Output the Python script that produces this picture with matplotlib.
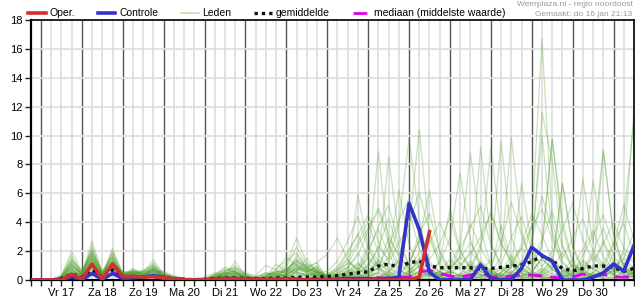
import matplotlib
matplotlib.use('Agg')
import matplotlib.pyplot as plt
import numpy as np
from matplotlib.lines import Line2D

plt.rcParams['font.family'] = ['Liberation Sans', 'DejaVu Sans']
plt.rcParams['font.size'] = 8

# 6-hourly steps, hours since vr 17 jan 00:00
hours = np.arange(-6, 349, 6)

day_labels = ['Vr 17', 'Za 18', 'Zo 19', 'Ma 20', 'Di 21', 'Wo 22', 'Do 23',
              'Vr 24', 'Za 25', 'Zo 26', 'Ma 27', 'Di 28', 'Wo 29', 'Do 30']

oper = [0, 0, 0, 0, 0.4, 0.07, 1.1, 0.07, 1.1, 0.23,
        0.25, 0.2, 0.23, 0.18, 0.07, 0.03, 0, 0, 0.05, 0.1,
        0.1, 0.05, 0.05, 0.05, 0.05, 0.1, 0.05, 0.02, 0, 0,
        0, 0, 0, 0, 0, 0, 0, 0.02, 0.2, 3.35]

controle = [0, 0, 0, 0.02, 0.2, 0.02, 0.45, 0.05, 0.45, 0.1,
            0.15, 0.2, 0.3, 0.2, 0.05, 0.02, 0, 0, 0.05, 0.1,
            0.1, 0.05, 0.05, 0.02, 0.05, 0.05, 0.02, 0.02, 0.02, 0.02,
            0.05, 0.1, 0.1, 0.1, 0.05, 0.1, 0.18, 5.3, 3.5, 0.55,
            0, 0, 0, 0.05, 1.05, 0.1, 0.02, 0.05, 0.8, 2.26,
            1.7, 1.3, 0, 0, 0, 0.2, 0.5, 1.1, 0.6, 2.4]

gemiddelde = [0, 0, 0, 0.1, 0.4, 0.2, 0.7, 0.2, 0.7, 0.2,
              0.25, 0.2, 0.3, 0.2, 0.1, 0.05, 0.02, 0.05, 0.1, 0.15,
              0.15, 0.1, 0.1, 0.1, 0.15, 0.15, 0.2, 0.2, 0.2, 0.25,
              0.3, 0.4, 0.5, 0.57, 0.97, 1.1, 0.88, 1.2, 1.3, 0.97,
              0.85, 0.85, 0.85, 0.85, 0.76, 0.8, 0.88, 0.97, 1.04, 1.27,
              1.66, 1.34, 0.8, 0.62, 0.8, 0.97, 0.97, 0.88, 0.6, 0.8]

mediaan = [0, 0, 0, 0.05, 0.3, 0.1, 0.6, 0.1, 0.6, 0.15,
           0.2, 0.15, 0.2, 0.1, 0.05, 0, 0, 0, 0.05, 0.1,
           0.1, 0.05, 0, 0, 0.05, 0.1, 0.1, 0.1, 0.1, 0.05,
           0.05, 0.1, 0.1, 0.1, 0.15, 0.15, 0.18, 0.2, 0.57, 0.65,
           0.46, 0.28, 0.2, 0.35, 0.5, 0.23, 0.2, 0.28, 0.35, 0.35,
           0.28, 0.2, 0.12, 0.2, 0.42, 0.23, 0.4, 0.2, 0.2, 0.2]

# ensemble members (leden), one row per member
leden = [
    '0 0 0 0.1 0.5 0.2 1.2 0.3 1.0 0.2 0.3 0.2 0.4 0.2 0.1 0 0 0 0.1 0.2 0.3 0.1 0 0 0.1 0.2 0.4 0.3 0.2 '
    '0.3 0.5 1.2 0.8 2.1 3.5 1.8 0.6 0.4 1.1 0.3 0.2 0.8 1.5 2.6 1.2 0.5 0.3 0.9 2.2 1.4 0.6 0.2 0.1 0.5 1.1 0.8 0.4 0.6 1.9 1.2',
    '0 0 0 0.2 1.1 0.4 2.7 0.5 1.4 0.3 0.5 0.3 0.6 0.3 0.1 0.1 0 0 0.4 0.8 0.5 0.2 0.1 0.2 0.3 0.5 1.1 0.6 0.3 '
    '0.1 0.2 0.4 5.9 2.3 0.8 0.3 0.1 0 0.2 0.5 0.3 0.1 0 0.2 0.6 0.3 0.1 0.4 1.2 3.8 16.7 4.1 1.3 0.4 0.2 0.1 0.3 0.8 0.4 0.2',
    '0 0 0 0.1 0.8 0.3 1.6 0.2 2.2 0.4 0.6 0.5 1.4 0.4 0.2 0 0 0.1 0.2 0.3 1.3 0.3 0.1 0.1 0.2 0.4 0.8 0.5 0.4 '
    '0 0.1 0.3 0.6 1.5 8.9 2.4 0.7 0.3 0.1 0 0.2 0.6 0.3 0.1 0 0.3 0.8 0.4 0.2 0.5 1.6 0.7 0.3 0.1 0.4 0.9 2.7 1.3 0.5 0.8',
    '0 0 0 0.3 2.0 0.6 1.3 0.4 1.7 0.2 0.4 0.6 0.9 0.3 0.1 0.1 0 0 0.1 0.5 0.4 0.2 0 0.3 0.6 1.1 2.9 1.2 0.6 '
    '0.2 0.4 0.8 1.9 0.6 1.3 8.5 3.1 0.9 0.4 0.2 0.6 1.4 0.8 0.3 0.1 0.2 0.5 1.7 0.9 0.4 0.2 0.1 0.4 1.0 0.6 0.3 0.1 0.2 0.5 0.3',
    '0 0 0 0.1 0.4 0.1 0.9 0.2 0.8 0.3 0.7 0.4 0.5 0.6 0.3 0.1 0 0 0 0.1 0.2 0.1 0.2 0.5 0.3 0.7 1.4 0.8 1.2 '
    '0.1 0.2 0.3 0.5 1.1 0.7 1.6 6.2 2.5 0.8 0.3 0.1 0.2 0.4 1.3 0.6 0.2 0.1 0.3 0.8 1.9 11.6 8.3 2.4 0.7 0.3 0.5 1.2 0.6 0.4 0.2',
    '0 0 0 0.2 1.5 0.5 2.1 0.3 1.2 0.5 0.3 0.7 1.0 0.2 0.1 0 0 0 0.3 0.9 0.6 0.1 0 0.1 0.4 0.3 0.6 1.5 0.5 '
    '0 0 0.2 0.4 0.9 2.3 1.4 3.8 9.8 4.2 1.1 0.4 0.2 0.1 0.3 0.9 0.5 0.2 0.1 0.3 0.6 1.4 0.8 0.3 0.2 0.6 1.8 0.9 0.4 0.2 0.6',
    '0 0 0 0 0.3 0.2 0.8 0.1 0.6 0.1 0.2 0.1 0.3 0.1 0 0 0 0 0 0.1 0.1 0 0 0.2 0.1 0.3 0.2 0.4 0.3 '
    '0.2 0.3 0.6 1.2 0.5 0.8 2.9 1.7 3.5 10.4 3.2 0.9 0.4 0.2 0.6 1.3 0.7 0.3 0.2 0.5 1.1 2.3 9.7 3.6 1.2 0.4 0.2 0.5 0.9 0.6 0.3',
    '0 0 0 0.2 1.3 0.7 1.9 0.6 1.5 0.4 0.8 0.3 0.7 0.5 0.2 0.1 0.1 0.2 0.5 0.3 0.8 0.5 0.3 1.0 0.7 1.6 1.0 0.6 0.9 '
    '0.1 0.1 0.2 0.3 0.6 1.4 0.9 0.4 1.1 2.8 6.2 1.9 0.6 0.3 0.1 0.2 0.4 1.0 0.5 0.2 0.1 0.3 0.7 0.4 0.2 0.9 6.9 2.6 0.8 0.3 0.5',
    '0 0 0 0.1 0.7 0.3 1.4 0.4 1.8 0.2 0.4 0.2 0.8 0.2 0.1 0 0 0 0.2 0.4 0.2 0.1 0 0 0.2 0.5 1.7 0.9 0.4 '
    '0.3 0.6 1.4 0.7 0.3 0.2 0.5 1.3 0.6 0.2 0.4 1.2 2.9 7.4 2.8 0.9 0.4 0.2 0.5 1.3 0.6 0.3 0.1 0.2 0.6 1.4 0.7 8.9 3.1 0.9 0.4',
    '0 0 0 0.3 1.7 0.4 2.4 0.5 1.1 0.6 0.5 0.5 0.6 0.3 0.2 0.1 0 0 0.1 0.6 0.9 0.3 0.1 0.2 1.1 0.6 0.5 0.3 0.7 '
    '0 0.1 0.1 0.3 0.2 0.5 0.3 0.1 0.2 0.6 0.3 0.5 1.1 2.4 8.8 3.5 1.0 0.4 0.2 0.1 0.3 0.8 0.4 0.2 0.5 1.3 0.8 0.3 0.6 2.1 11.8',
    '0 0 0 0.1 0.6 0.2 1.0 0.3 0.9 0.3 0.3 0.3 1.2 0.4 0.1 0 0 0 0.1 0.2 0.3 0.2 0.1 0 0 0.1 0.3 0.2 0.5 '
    '0.2 0.4 0.3 0.7 1.6 0.9 0.4 0.2 0.6 1.5 0.8 0.3 0.5 1.2 0.6 9.2 2.7 0.8 0.3 0.1 0.2 0.5 1.1 6.7 2.2 0.7 0.3 0.2 0.4 0.9 0.5',
    '0 0 0 0.2 0.9 0.5 1.7 0.3 2.0 0.5 0.6 0.4 0.4 0.2 0.1 0.1 0 0.1 0.3 0.7 0.5 0.2 0.1 0.4 0.5 0.9 2.3 1.0 0.6 '
    '0.1 0.2 0.5 1.1 0.6 0.3 0.1 0.2 0.4 0.9 0.5 0.2 0.1 0.3 0.8 2.1 9.1 3.3 1.0 0.4 0.2 0.6 1.3 0.7 0.3 0.2 0.5 1.0 0.4 0.2 0.3',
    '0 0 0 0.1 1.2 0.3 1.1 0.2 1.3 0.2 0.5 0.6 0.7 0.3 0.1 0 0 0 0.2 0.3 0.6 0.4 0.2 0.1 0.3 0.4 0.7 1.1 0.8 '
    '0 0.1 0.3 0.2 0.4 0.8 0.5 0.2 0.1 0.3 0.7 0.4 0.2 0.1 0.2 0.6 1.4 9.6 3.0 0.9 0.3 0.1 0.2 0.5 1.1 0.6 0.3 0.2 0.7 1.5 0.8',
    '0 0 0 0.2 0.5 0.4 2.2 0.4 1.0 0.4 0.4 0.2 1.0 0.5 0.2 0.1 0 0 0 0.4 0.7 0.2 0 0.1 0.2 0.8 1.2 0.7 0.3 '
    '0.2 0.5 0.9 0.4 0.2 0.1 0.3 0.7 0.4 0.2 0.1 0.3 0.6 0.3 0.1 0.2 0.5 1.6 9.9 3.4 1.1 0.4 0.2 0.1 0.4 0.9 0.5 0.3 1.2 0.7 0.3',
    '0 0 0 0.1 0.8 0.2 1.5 0.5 1.6 0.3 0.6 0.4 0.5 0.2 0.1 0 0 0 0.2 0.2 0.4 0.1 0.1 0.3 0.4 0.3 0.9 0.5 1.0 '
    '0.1 0.3 0.6 0.3 0.1 0.2 0.4 0.2 0.6 1.3 0.7 0.3 0.1 0.2 0.5 1.2 0.6 0.3 0.8 6.7 2.4 10.0 3.2 0.9 0.3 0.1 0.2 0.6 0.3 0.1 0.2',
    '0 0 0 0.3 1.4 0.6 1.8 0.3 0.7 0.2 0.3 0.5 0.8 0.4 0.2 0.1 0 0 0.3 0.5 0.3 0.1 0 0.2 0.8 1.3 1.9 0.8 0.5 '
    '0.4 0.8 1.8 3.2 1.5 0.7 0.3 0.1 0.2 0.5 1.1 0.6 0.2 0.1 0.3 0.8 0.4 0.2 0.1 0.3 0.9 2.4 9.8 4.1 1.3 0.5 0.2 0.4 1.0 0.6 0.4',
    '0 0 0 0.1 0.6 0.3 1.3 0.2 1.2 0.4 0.5 0.3 0.6 0.3 0.1 0 0 0 0.1 0.3 0.5 0.3 0.1 0 0.1 0.2 0.5 0.4 0.3 '
    '0 0 0.1 0.2 0.5 1.2 0.6 0.3 0.1 0.2 0.4 0.2 0.1 0 0.1 0.3 0.7 0.3 0.1 0.2 0.6 1.5 0.8 6.7 2.3 0.8 0.3 0.1 0.2 0.6 0.3',
    '0 0 0 0.2 1.0 0.4 2.0 0.6 1.9 0.3 0.7 0.6 1.1 0.2 0.1 0.1 0 0.1 0.4 0.6 1.0 0.4 0.2 0.5 0.4 0.6 1.3 0.9 0.7 '
    '0.2 0.3 0.5 0.9 2.4 1.3 0.6 0.2 0.4 1.0 0.5 0.2 0.1 0.3 0.7 0.4 0.2 0.5 1.3 0.7 0.3 0.1 0.2 0.6 1.4 7.0 2.5 9.0 3.1 0.9 0.4',
    '0 0 0 0.1 0.4 0.2 0.7 0.3 0.9 0.2 0.2 0.2 0.4 0.2 0.1 0 0 0 0.1 0.1 0.2 0.1 0 0.1 0.3 0.2 0.6 0.3 0.4 '
    '0.1 0.1 0.2 0.4 0.3 0.6 1.2 0.5 0.2 0.1 0.3 0.6 0.3 0.1 0.2 0.4 0.2 0.1 0.3 0.7 0.4 0.2 0.1 0.3 0.7 0.4 0.2 0.5 1.8 4.3 11.1',
    '0 0 0 0.2 1.1 0.5 1.6 0.4 1.4 0.5 0.4 0.4 0.9 0.4 0.2 0.1 0 0 0.2 0.5 0.6 0.2 0.1 0.2 0.6 0.5 1.0 0.6 0.8 '
    '0.3 0.7 1.5 2.6 4.1 1.8 0.8 0.4 1.2 2.7 1.3 0.5 0.2 0.4 1.1 0.6 0.3 0.2 0.5 1.2 0.6 0.3 0.8 1.9 0.9 0.4 0.2 0.5 1.3 0.7 0.5',
    '0 0 0 0.1 0.7 0.3 1.2 0.2 1.1 0.2 0.4 0.3 0.7 0.3 0.1 0 0 0 0.1 0.3 0.4 0.2 0.1 0.1 0.2 0.4 0.8 0.6 0.5 '
    '0 0.1 0.2 0.1 0.3 0.5 0.2 0.1 0.3 0.6 0.3 0.1 0 0.2 0.4 0.2 0.1 0.3 0.6 0.3 0.1 0.2 0.5 0.3 0.1 0.2 0.4 0.3 0.1 0.3 0.2',
    '0 0 0 0.2 1.3 0.4 1.9 0.5 1.3 0.4 0.6 0.5 0.8 0.3 0.1 0.1 0 0 0.2 0.4 0.5 0.3 0.2 0.4 0.5 0.7 1.5 0.8 0.6 '
    '0.2 0.4 0.9 1.7 3.4 4.8 2.6 1.1 0.5 1.4 2.8 1.2 0.4 0.9 2.0 1.1 0.5 0.3 0.9 2.5 4.6 3.1 1.4 0.6 0.3 0.8 2.0 3.6 1.7 0.6 1.0',
    '0 0 0 0.1 0.5 0.2 1.0 0.3 0.8 0.3 0.3 0.2 0.5 0.2 0.1 0 0 0 0.1 0.2 0.2 0.1 0 0.1 0.1 0.3 0.5 0.4 0.3 '
    '0.1 0.2 0.4 0.8 0.4 0.2 0.6 1.4 4.7 2.2 0.8 0.3 0.6 1.6 0.8 0.3 0.2 0.5 1.1 0.5 0.2 0.4 1.0 0.5 0.2 0.1 0.3 0.8 0.4 1.2 0.6',
    '0 0 0 0.2 0.9 0.4 1.5 0.4 1.6 0.4 0.5 0.4 0.6 0.3 0.2 0.1 0 0.1 0.3 0.4 0.5 0.2 0.1 0.2 0.4 0.6 1.1 0.7 0.6 '
    '0.1 0.3 0.7 0.4 1.0 2.2 4.3 1.9 0.7 0.3 0.5 1.3 4.9 2.1 0.8 0.3 0.6 3.8 1.5 0.5 0.2 0.6 1.5 0.7 0.3 0.6 1.6 0.8 2.4 5.2 2.8',
    '0 0 0 0.1 0.6 0.3 1.1 0.3 1.0 0.3 0.4 0.3 0.6 0.2 0.1 0 0 0 0.2 0.3 0.4 0.2 0.1 0.2 0.5 0.8 0.6 0.9 1.2 '
    '1.8 2.9 1.4 0.6 1.9 3.7 5.2 2.4 1.1 3.2 4.6 2.0 0.8 1.7 3.9 2.2 1.0 2.6 5.4 3.1 1.2 2.8 4.7 2.3 1.0 2.1 3.4 1.6 0.7 1.5 3.3',
    '0 0 0 0.2 0.8 0.4 1.4 0.3 1.2 0.3 0.5 0.4 0.7 0.3 0.1 0.1 0 0 0.2 0.6 0.8 0.3 0.1 0.3 0.6 0.5 0.9 0.7 0.5 '
    '0.6 1.3 2.7 4.4 2.1 1.0 2.3 4.1 5.6 3.0 1.4 2.5 4.3 1.9 0.9 2.4 4.8 2.6 1.2 0.6 2.7 5.8 3.4 1.5 2.9 4.2 2.0 1.1 2.6 3.9 1.8',
    '0 0 0 0.1 0.3 0.2 0.9 0.2 1.1 0.2 0.3 0.2 0.5 0.2 0.1 0 0 0 0.1 0.2 0.3 0.1 0 0.1 0.2 0.4 0.7 0.5 0.4 '
    '0.4 0.9 2.0 3.1 4.5 2.7 1.2 2.6 3.8 6.1 3.3 1.5 0.7 2.2 3.6 5.1 2.4 1.1 2.9 4.4 2.1 0.9 2.0 3.5 5.3 2.8 1.3 2.5 4.0 2.2 1.4',
    '0 0 0 0.2 1.0 0.5 1.7 0.4 1.3 0.4 0.5 0.3 0.8 0.3 0.1 0 0 0 0.3 0.5 0.6 0.2 0.1 0.2 0.4 0.7 1.3 0.8 0.6 '
    '0.3 0.7 1.1 2.4 3.6 5.0 3.2 1.6 0.8 1.9 2.6 4.0 2.3 1.0 1.8 3.0 4.6 2.5 1.3 2.2 3.7 4.9 2.8 1.2 0.6 1.7 3.1 4.5 2.4 1.0 2.0',
]

fig = plt.figure(figsize=(6.35, 3.0), dpi=100)
ax = fig.add_axes([30.7 / 635, 20 / 300, 603.3 / 635, 260 / 300])

# grid: light every 6 h, dark at midnight
for h in hours:
    if h % 24 == 0:
        ax.axvline(h, color='#555555', lw=1.0, zorder=0)
    else:
        ax.axvline(h, color='#dddddd', lw=1.2, zorder=0)
ax.yaxis.grid(True, color='#dddddd', lw=1.2, zorder=0)
ax.set_axisbelow(True)

for row in leden:
    vals = np.array(row.split(), dtype=float)
    ax.plot(hours[:len(vals)], vals, color='#4f9e2a', lw=0.9, alpha=0.3, zorder=2)

ax.plot(hours[:len(mediaan)], mediaan, color='#dd00ee', lw=2.0, dashes=(5, 3), zorder=3)
ax.plot(hours[:len(gemiddelde)], gemiddelde, color='#111111', lw=2.4, dashes=(1, 1.2), zorder=4)
ax.plot(hours[:len(controle)], controle, color='#3333cc', lw=2.6, zorder=5)
ax.plot(hours[:len(oper)], oper, color='#d23030', lw=2.6, zorder=6)

ax.set_xlim(-6, 348)
ax.set_ylim(0, 18)
ax.set_yticks(np.arange(0, 19, 2))

xt_labels = []
for h in hours:
    if h % 24 == 12 and (h - 12) // 24 < len(day_labels):
        xt_labels.append(day_labels[(h - 12) // 24])
    else:
        xt_labels.append('')
ax.set_xticks(hours, xt_labels)
ax.tick_params(axis='x', length=4, width=1, color='#222222', pad=2, labelsize=8)
ax.tick_params(axis='y', length=4, width=1, color='#222222', pad=2, labelsize=8)

for side in ['left', 'bottom']:
    ax.spines[side].set_linewidth(1.6)
for side in ['top', 'right']:
    ax.spines[side].set_linewidth(1.2)

handles = [
    Line2D([], [], color='#d23030', lw=2.6),
    Line2D([], [], color='#3333cc', lw=2.6),
    Line2D([], [], color='#c2dfb2', lw=1.2),
    Line2D([], [], color='#111111', lw=2.4, dashes=(1, 1.2)),
    Line2D([], [], color='#dd00ee', lw=2.0, dashes=(5, 2, 1, 2)),
]
names = ['Oper.', 'Controle', 'Leden', 'gemiddelde', 'mediaan (middelste waarde)']
fig.legend(handles, names, loc='center left', bbox_to_anchor=(28 / 635, 1 - 13.5 / 300),
           ncol=5, frameon=False, borderpad=0, borderaxespad=0, handlelength=1.7,
           handletextpad=0.35, columnspacing=2.2, fontsize=7.5)

fig.text(633 / 635, 1 - 4 / 300, 'Weerplaza.nl - regio noordoost', ha='right', va='center',
         fontsize=6, color='#999999')
fig.text(632 / 635, 1 - 14 / 300, 'Gemaakt: do 16 jan 21:13', ha='right', va='center',
         fontsize=6, color='#999999')

fig.savefig('out.png', dpi=100)
